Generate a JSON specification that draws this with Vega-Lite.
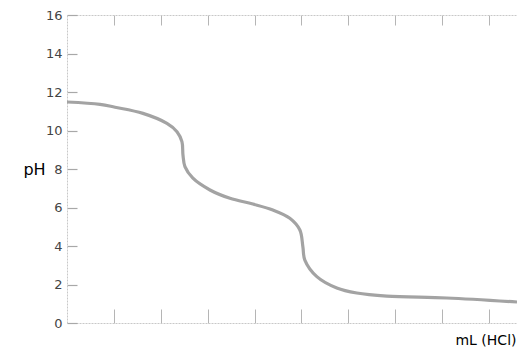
{
  "$schema": "https://vega.github.io/schema/vega-lite/v6.json",
  "width": 450,
  "height": 308,
  "autosize": {"type": "none"},
  "padding": {"left": 67, "top": 15, "right": 0, "bottom": 24},
  "background": "white",
  "config": {
    "view": {"stroke": null},
    "font": "DejaVu Sans"
  },
  "data": {
    "values": [
      {"ml": 0, "ph": 11.48},
      {"ml": 3.52, "ph": 11.36},
      {"ml": 5.12, "ph": 11.21},
      {"ml": 8.1, "ph": 10.89},
      {"ml": 10.66, "ph": 10.37},
      {"ml": 11.73, "ph": 9.94},
      {"ml": 12.26, "ph": 9.42},
      {"ml": 12.37, "ph": 8.73},
      {"ml": 12.58, "ph": 8.12},
      {"ml": 13.43, "ph": 7.52},
      {"ml": 15.25, "ph": 6.91},
      {"ml": 17.38, "ph": 6.48},
      {"ml": 19.83, "ph": 6.18},
      {"ml": 21.96, "ph": 5.87},
      {"ml": 23.77, "ph": 5.44},
      {"ml": 24.84, "ph": 4.83},
      {"ml": 25.16, "ph": 3.96},
      {"ml": 25.37, "ph": 3.27},
      {"ml": 26.65, "ph": 2.41},
      {"ml": 28.78, "ph": 1.82},
      {"ml": 30.91, "ph": 1.56},
      {"ml": 34.11, "ph": 1.4},
      {"ml": 40.51, "ph": 1.3},
      {"ml": 48, "ph": 1.09}
    ]
  },
  "layer": [
    {
      "mark": {"type": "line", "interpolate": "catmull-rom", "stroke": "#a3a3a3", "strokeWidth": 3.2, "clip": true},
      "encoding": {
        "x": {
          "field": "ml", "type": "quantitative",
          "scale": {"domain": [0, 48], "nice": false, "zero": false},
          "axis": {
            "orient": "bottom",
            "values": [5, 10, 15, 20, 25, 30, 35, 40, 45],
            "labels": false,
            "grid": false,
            "domainColor": "#c8c8c8",
            "domainDash": [2, 1],
            "domainWidth": 1,
            "tickColor": "#b5b5b5",
            "tickSize": -14,
            "tickWidth": 1,
            "title": "mL (HCl)",
            "titleFont": "DejaVu Sans",
            "titleFontSize": 14,
            "titleFontWeight": "normal",
            "titleColor": "#000000",
            "titleAlign": "right",
            "titleBaseline": "middle",
            "titleX": 449,
            "titleY": 17
          }
        },
        "y": {
          "field": "ph", "type": "quantitative",
          "scale": {"domain": [0, 16], "nice": false},
          "axis": {
            "orient": "left",
            "values": [0, 2, 4, 6, 8, 10, 12, 14, 16],
            "grid": false,
            "ticks": true,
            "domainColor": "#c8c8c8",
            "domainDash": [2, 1],
            "domainWidth": 1,
            "tickColor": "#a8a8a8",
            "tickSize": -10,
            "tickWidth": 1.2,
            "labelFont": "DejaVu Sans",
            "labelFontSize": 13,
            "labelColor": "#444444",
            "labelPadding": 15,
            "labelOverlap": false,
            "labelBound": false,
            "labelFlush": false,
            "title": "pH",
            "titleFont": "DejaVu Sans",
            "titleFontSize": 16,
            "titleFontWeight": "normal",
            "titleColor": "#000000",
            "titleAngle": 0,
            "titleAlign": "center",
            "titleBaseline": "middle",
            "titleX": -33,
            "titleY": 154
          }
        }
      }
    },
    {
      "mark": {"type": "line", "opacity": 0},
      "encoding": {
        "x": {
          "field": "ml", "type": "quantitative",
          "scale": {"domain": [0, 48], "nice": false, "zero": false},
          "axis": {
            "orient": "top",
            "values": [5, 10, 15, 20, 25, 30, 35, 40, 45],
            "labels": false,
            "grid": false,
            "domainColor": "#c8c8c8",
            "domainDash": [2, 1],
            "domainWidth": 1,
            "tickColor": "#b5b5b5",
            "tickSize": -10,
            "tickWidth": 1,
            "title": null
          }
        },
        "y": {
          "field": "ph", "type": "quantitative",
          "scale": {"domain": [0, 16], "nice": false},
          "axis": null
        }
      }
    }
  ],
  "resolve": {"axis": {"x": "independent", "y": "independent"}}
}
